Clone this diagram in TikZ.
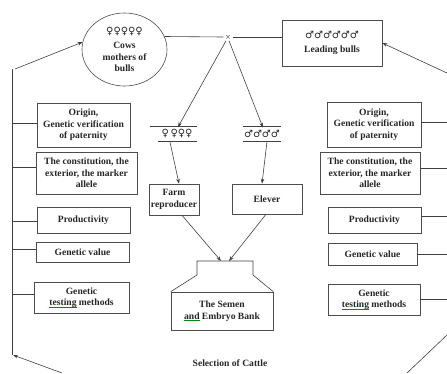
\documentclass[tikz,border=0pt]{standalone}
\usepackage{fontspec}
\setmainfont{Liberation Serif}
\newfontfamily\symf{DejaVu Sans}
\usetikzlibrary{arrows.meta,shapes.geometric}
\newcommand\spellsq[1]{\setbox0\hbox{#1}\rlap{\color{green!55!black}\rule[-1.8pt]{\wd0}{0.5pt}}\box0}
\begin{document}
\begin{tikzpicture}[x=1pt,y=-1pt,
  every node/.style={font=\fontsize{9.6}{11.5}\selectfont\bfseries, align=center, text=black!85},
  box/.style={draw=black!70, line width=0.6pt, rectangle, inner sep=0pt},
  ln/.style={draw=black!75, line width=0.6pt},
  arr/.style={ln, -{Stealth[length=5pt,width=3.6pt]}},
  sym/.style={font=\symf\fontsize{10}{10}\selectfont, inner sep=1pt}]
\useasboundingbox (0,0) rectangle (447,373);

% top row
\node[draw=black!70, line width=0.6pt, ellipse, minimum width=85pt, minimum height=73pt, inner sep=0pt] (cows) at (124.5,49.5)
  {{\symf\fontsize{10}{10}\selectfont ♀♀♀♀♀}\\[3pt]Cows\\mothers of\\bulls};
\node[box, minimum width=100pt, minimum height=46pt] (bulls) at (332,43)
  {{\symf\fontsize{10}{10}\selectfont ♂♂♂♂♂♂}\\[2pt]Leading bulls};
\node[inner sep=1.5pt, font=\symf\fontsize{7}{7}\selectfont, text=black!70] (x) at (228,37) {×};

\draw[ln] (cows.18) -- (x.west);
\draw[ln] (x.east) -- (x.east -| bulls.west);

% groups
\node[sym] (fem) at (177,133.5) {♀\,♀♀♀};
\draw[ln] (150,126) -- (197,126);
\draw[ln] (158,141) -- (197,141);
\node[sym] (male) at (262,133.5) {♂♂♂♂};
\draw[ln] (243,126) -- (281,126);
\draw[ln] (243,141) -- (281,141);

\draw[arr] ([xshift=-2pt]x.south) -- ([xshift=1pt,yshift=1pt]fem.north);
\draw[arr] ([xshift=1pt]x.south) -- ([xshift=1pt,yshift=1pt]male.north);

% middle boxes
\node[box, minimum width=50pt, minimum height=31pt] (farm) at (174,199.5) {Farm\\reproducer};
\node[box, minimum width=70pt, minimum height=30pt] (elever) at (267,199) {Elever};
\draw[arr] ([xshift=-7pt,yshift=-3pt]fem.south) -- ([xshift=5pt]farm.north);
\draw[arr] ([xshift=5pt,yshift=-3pt]male.south) -- ([xshift=-5pt]elever.north);

% bank
\node[box, minimum width=102pt, minimum height=38pt] (bank) at (222,311)
  {The Semen\\\spellsq{and}\ Embryo Bank};
\coordinate (r1) at (221,261);
\coordinate (r2) at (229,261);
\draw[ln] (bank.north west) -- (197,275) -- (197,261) -- (253,261) -- (253,275) -- (bank.north east);
\draw[arr] ([xshift=8pt]farm.south) -- (r1);
\draw[arr] ([xshift=-1pt]elever.south) -- (r2);

\node (sel) at (230,363) {Selection of Cattle};

% left column
\node[box, minimum width=93pt, minimum height=44pt] (lo) at (83.5,125) {Origin,\\Genetic verification\\of paternity};
\node[box, minimum width=101pt, minimum height=42pt] (lc) at (86.5,173) {The constitution, the\\exterior, the marker\\allele};
\node[box, minimum width=93pt, minimum height=26pt] (lp) at (83.5,220) {Productivity};
\node[box, minimum width=93pt, minimum height=20pt] (lg) at (82.5,252) {Genetic value};
\node[box, minimum width=95pt, minimum height=31pt] (lt) at (81.5,297.5) {Genetic\\\spellsq{testing}\ methods};

\coordinate (ltop) at (12,69);
\coordinate (lbot) at (12,355);
\coordinate (lin) at (62,373);
\draw[ln] (ltop) -- (lbot);
\draw[arr] ([xshift=3pt]ltop) -- (cows.170);
\draw[arr] (lin) -- ([xshift=1pt]lbot);
\draw[ln] (12,123) -- (lo.west |- 12,123);
\draw[ln] (12,167) -- (lc.west |- 12,167);
\draw[ln] (12,221) -- (lp.west |- 12,221);
\draw[ln] (12,249) -- (lg.west |- 12,249);
\draw[ln] (12,294) -- (lt.west |- 12,294);

% right column
\node[box, minimum width=94pt, minimum height=45pt] (ro) at (374,124.5) {Origin,\\Genetic verification\\of paternity};
\node[box, minimum width=100pt, minimum height=42pt] (rc) at (370,173) {The constitution, the\\exterior, the marker\\allele};
\node[box, minimum width=93pt, minimum height=26pt] (rp) at (374.5,220) {Productivity};
\node[box, minimum width=89pt, minimum height=22pt] (rg) at (372.5,254) {Genetic value};
\node[box, minimum width=92pt, minimum height=31pt] (rt) at (374,299.5) {Genetic\\\spellsq{testing}\ methods};

\coordinate (rin) at (447,73);
\draw[arr] (rin) -- (bulls.east);
\draw[ln] (ro.east |- 0,122) -- (447,122);
\draw[ln] (rc.east |- 0,168) -- (447,168);
\draw[ln] (rp.east |- 0,216) -- (447,216);
\draw[ln] (rg.east |- 0,254) -- (447,254);
\draw[ln] (rt.east |- 0,299) -- (447,299);
\coordinate (rbot) at (447,335);
\coordinate (rbend) at (407,373);
\draw[ln] (rbot) -- (rbend);
\end{tikzpicture}
\end{document}
